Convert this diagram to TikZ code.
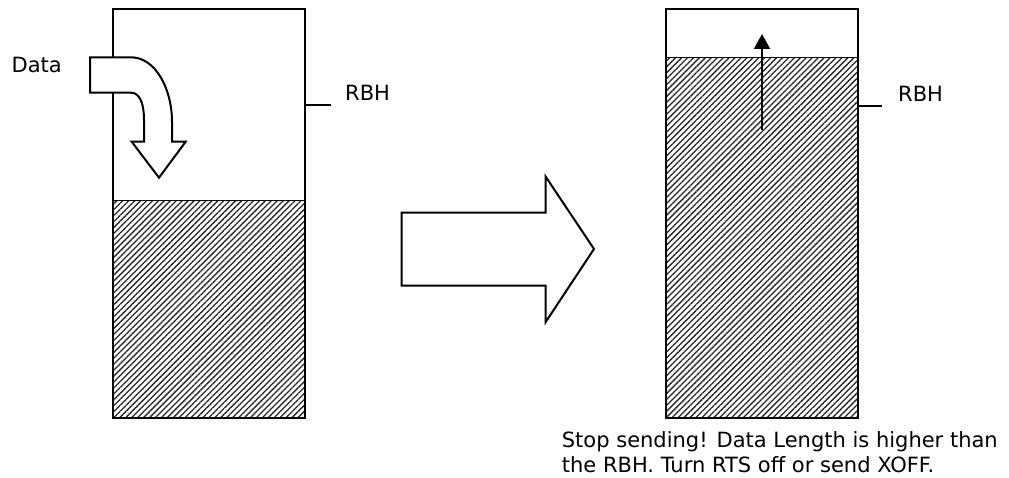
\documentclass[tikz,border=0pt]{standalone}
\usepackage{fontspec}
\setmainfont{DejaVu Sans}
\usetikzlibrary{patterns.meta,arrows.meta}
\begin{document}
\begin{tikzpicture}[x=1pt,y=-1pt,
  outline/.style={draw=black,line width=2pt},
  hatch/.style={pattern={Lines[angle=45,distance=4.2pt,line width=1.3pt]},pattern color=black!85},
  lbl/.style={inner sep=0pt,font=\fontsize{21pt}{24.5pt}\selectfont}]
\useasboundingbox (0,0) rectangle (1009,478);
% left buffer
\fill[hatch] (113,201) rectangle (305,418);
\draw[line width=1pt] (113,201) -- (305,201);
\draw[outline] (113,9) rectangle (305,418);
\draw[outline] (305,105) -- (331,105);
\node[lbl,anchor=base west] (rbh1) at (345,100.7) {RBH};
% curved data arrow
\draw[outline,fill=white,line join=miter]
  (90,57.3) -- (131,57.3) .. controls (155,57.3) and (172,88) .. (172,122)
  -- (172,141.7) -- (185.7,141.7) -- (159,177.7) -- (131.7,141.7) -- (144,141.7)
  -- (144,120) .. controls (144,104) and (140,92.7) .. (131,92.7)
  -- (90,92.7) -- cycle;
\node[lbl,anchor=base west] (data) at (11.5,72.7) {Data};
% big transition arrow
\draw[outline,line join=miter]
  (401.7,212.7) -- (545.7,212.7) -- (545.7,176.7) -- (594,249)
  -- (545.7,322) -- (545.7,285.7) -- (401.7,285.7) -- cycle;
% right buffer
\fill[hatch] (666,57.3) rectangle (858,418);
\draw[line width=1pt] (666,57.3) -- (858,57.3);
\draw[outline] (666,9) rectangle (858,418);
\draw[outline] (858,106) -- (882,106);
\node[lbl,anchor=base west] (rbh2) at (898,101.5) {RBH};
\coordinate (upfrom) at (762,130);
\coordinate (upto) at (762,34);
\draw[line width=2pt,-{Triangle[length=15pt,width=16pt]}] (upfrom) -- (upto);
% caption
\node[lbl,anchor=north west,align=left] (cap) at (561.7,431.5)
  {Stop sending! Data Length is higher than\\the RBH. Turn RTS off or send XOFF.};
\end{tikzpicture}
\end{document}
